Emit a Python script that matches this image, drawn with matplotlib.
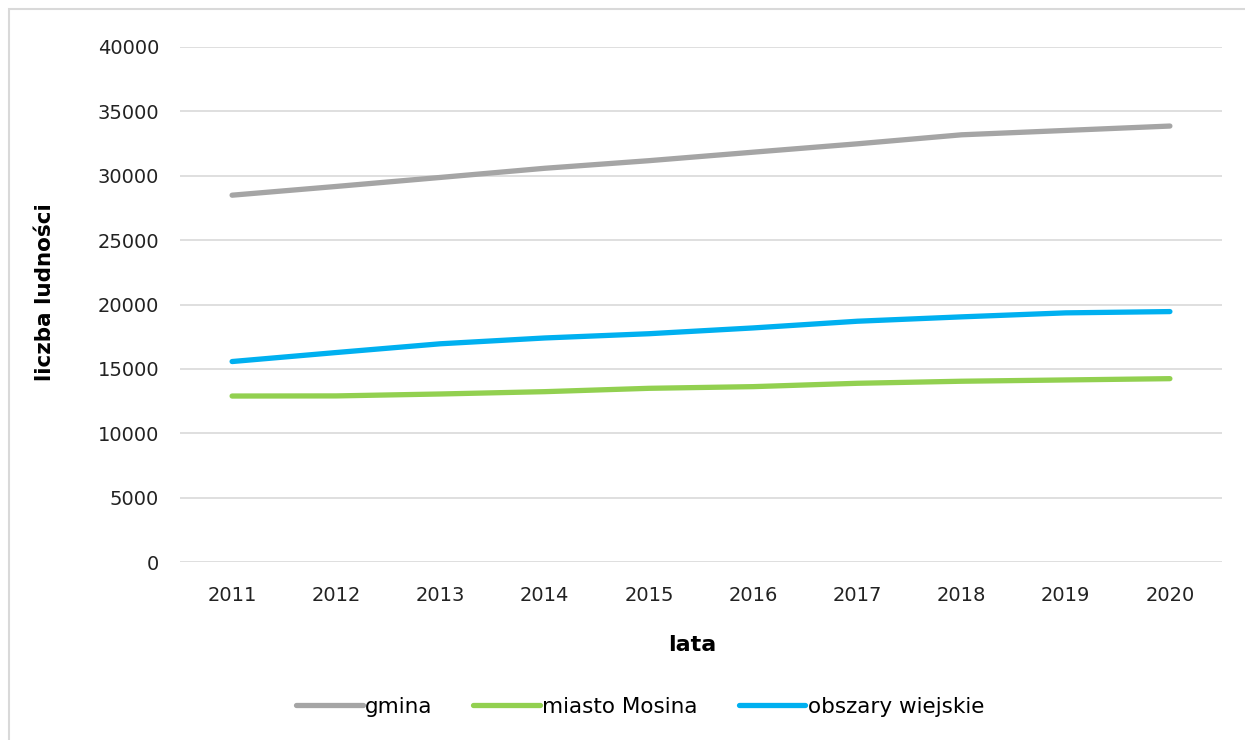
import matplotlib.pyplot as plt
from matplotlib.patches import Rectangle

# dane
lata = ["2011", "2012", "2013", "2014", "2015", "2016", "2017", "2018", "2019", "2020"]
gmina = [28490, 29170, 29870, 30580, 31170, 31830, 32480, 33180, 33520, 33860]
miasto = [12890, 12900, 13050, 13230, 13490, 13620, 13880, 14040, 14140, 14240]
wiejskie = [15570, 16270, 16950, 17400, 17730, 18180, 18700, 19040, 19350, 19450]

W, H = 1245, 740
fig = plt.figure(figsize=(W / 100, H / 100), dpi=100)
ax = fig.add_axes([180 / W, 1 - 562 / H, (1222 - 180) / W, (562 - 47) / H])

x = range(len(lata))
ax.plot(x, gmina, color="#A5A5A5", lw=3.8, solid_capstyle="round", label="gmina")
ax.plot(x, miasto, color="#92D050", lw=3.8, solid_capstyle="round", label="miasto Mosina")
ax.plot(x, wiejskie, color="#00B0F0", lw=3.8, solid_capstyle="round", label="obszary wiejskie")

ax.set_xlim(-0.5, len(lata) - 0.5)
ax.set_ylim(0, 40000)
ax.set_yticks(range(0, 40001, 5000))
ax.set_xticks(list(x))
ax.set_xticklabels(lata)
ax.grid(axis="y", color="#D9D9D9", lw=1.2)
ax.set_axisbelow(True)
for s in ax.spines.values():
    s.set_visible(False)
ax.tick_params(axis="both", length=0, labelsize=14, colors="#222222")
ax.tick_params(axis="x", pad=17)
ax.tick_params(axis="y", pad=15)

fig.text(45 / W, 1 - 292 / H, "liczba ludności", rotation=90, fontsize=15.5,
         fontweight="bold", ha="center", va="center")
fig.text(692 / W, 1 - 645 / H, "lata", fontsize=16, fontweight="bold",
         ha="center", va="center")

fig.legend(loc="center", bbox_to_anchor=(640 / W, 1 - 707 / H), ncol=3,
           frameon=False, fontsize=15.5, handlelength=3.1, handletextpad=0.1,
           columnspacing=1.9)

# ramka wykresu
fig.patches.append(Rectangle((9 / W, -0.05), 1.1, 1 - 9 / H + 0.05,
                             transform=fig.transFigure, fill=False,
                             edgecolor="#D9D9D9", lw=1.5))

fig.savefig("out.png", dpi=100)
